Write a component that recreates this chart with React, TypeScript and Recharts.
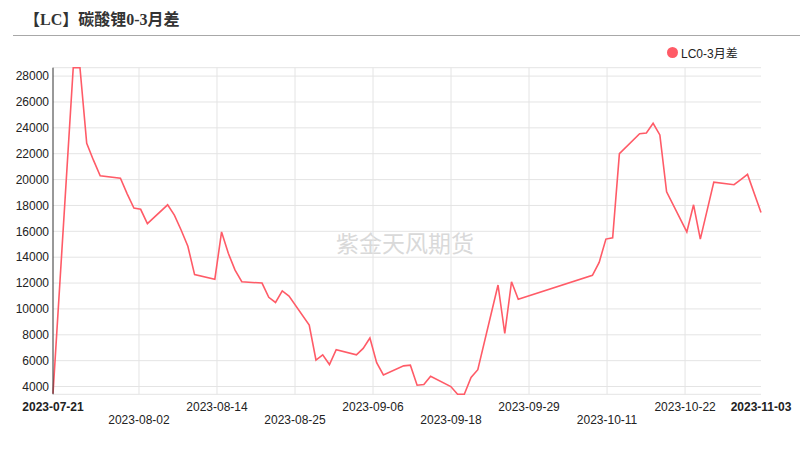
import { CartesianGrid, Line, LineChart, ReferenceLine, XAxis, YAxis } from 'recharts';

// LC0-3 spread, one entry per trading day
const dates = [
	'2023-07-21', '2023-07-24', '2023-07-25', '2023-07-26', '2023-07-27', '2023-07-28',
	'2023-07-31', '2023-08-01', '2023-08-02', '2023-08-03', '2023-08-04',
	'2023-08-07', '2023-08-08', '2023-08-09', '2023-08-10', '2023-08-11',
	'2023-08-14', '2023-08-15', '2023-08-16', '2023-08-17', '2023-08-18',
	'2023-08-21', '2023-08-22', '2023-08-23', '2023-08-24', '2023-08-25',
	'2023-08-28', '2023-08-29', '2023-08-30', '2023-08-31', '2023-09-01',
	'2023-09-04', '2023-09-05', '2023-09-06', '2023-09-07', '2023-09-08',
	'2023-09-11', '2023-09-12', '2023-09-13', '2023-09-14', '2023-09-15',
	'2023-09-18', '2023-09-19', '2023-09-20', '2023-09-21', '2023-09-22',
	'2023-09-25', '2023-09-26', '2023-09-27', '2023-09-28',
	'2023-10-09', '2023-10-10', '2023-10-11', '2023-10-12', '2023-10-13',
	'2023-10-16', '2023-10-17', '2023-10-18', '2023-10-19', '2023-10-20',
	'2023-10-23', '2023-10-24', '2023-10-25', '2023-10-27',
	'2023-10-30', '2023-10-31', '2023-11-01', '2023-11-03',
];

const spread = [
	3450, 28650, 28650, 22800, 21500, 20300,
	20100, 18900, 17800, 17700, 16600,
	18050, 17250, 16100, 14850, 12650,
	12300, 15950, 14300, 13000, 12100,
	12000, 10900, 10500, 11400, 11000,
	8750, 6050, 6450, 5700, 6850,
	6450, 6950, 7750, 5850, 4900,
	5600, 5650, 4100, 4150, 4800,
	4000, 3400, 3400, 4700, 5300,
	11850, 8100, 12100, 10750,
	12600, 13600, 15400, 15500, 22000,
	23550, 23600, 24350, 23450, 19050,
	15950, 18050, 15400, 19800,
	19600, 20000, 20400, 17450,
];

const yTicks = [4000, 6000, 8000, 10000, 12000, 14000, 16000, 18000, 20000, 22000, 24000, 26000, 28000];

const xTickLabels = [
	'2023-07-21', '2023-08-02', '2023-08-14', '2023-08-25', '2023-09-06',
	'2023-09-18', '2023-09-29', '2023-10-11', '2023-10-22', '2023-11-03',
];

const DAY = 86400000;
const start = Date.parse(dates[0]);
const data = dates.map((d, i) => ({ day: (Date.parse(d) - start) / DAY, value: spread[i] }));
const lastDay = (Date.parse(xTickLabels[xTickLabels.length - 1]) - start) / DAY;

// the original time axis puts its inner ticks on an even step that is not a whole day
const xTicks = [0, ...xTickLabels.slice(1, -1).map((_, i) => 12.75 + i * 11.57), lastDay];

const FONT = '"Liberation Sans", Arial, "Noto Sans CJK SC", sans-serif';
const RED = '#ff5b67';

function DateTick(props: any) {
	const { x, y, payload } = props;
	const i = xTicks.indexOf(payload.value);
	if (i < 0) return null;
	const edge = i === 0 || i === xTicks.length - 1;
	const low = !edge && i % 2 === 1;
	return (
		<text
			x={x}
			y={y + (low ? 26 : 13)}
			textAnchor="middle"
			dominantBaseline="central"
			fontSize={12}
			fontFamily={FONT}
			fontWeight={edge ? 700 : 400}
			fill="#222"
		>
			{xTickLabels[i]}
		</text>
	);
}

export default function App() {
	return (
		<div style={{ position: 'absolute', left: 0, top: 0, width: 806, height: 455, background: '#fff', fontFamily: FONT }}>
			<div
				style={{
					position: 'absolute',
					left: 24,
					top: 10,
					fontSize: 16,
					fontWeight: 700,
					color: '#333',
					fontFamily: '"Liberation Serif", "Noto Sans CJK SC", serif',
					lineHeight: '20px',
				}}
			>
				【LC】碳酸锂0-3月差
			</div>
			<div style={{ position: 'absolute', left: 13, top: 35, width: 787, height: 1, background: '#a8a8a8' }} />

			<div style={{ position: 'absolute', left: 667, top: 44, display: 'flex', alignItems: 'center', fontSize: 12, color: '#222' }}>
				<span style={{ width: 11, height: 11, borderRadius: '50%', background: RED, display: 'inline-block', marginRight: 3 }} />
				<span>LC0-3月差</span>
			</div>

			<div
				style={{
					position: 'absolute',
					left: 336,
					top: 228,
					fontSize: 23,
					color: '#d9d9d9',
					fontFamily: '"Noto Sans CJK SC", sans-serif',
					lineHeight: '28px',
					whiteSpace: 'nowrap',
				}}
			>
				紫金天风期货
			</div>

			<div style={{ position: 'absolute', left: 0, top: 0 }}>
				<LineChart width={806} height={455} data={data} margin={{ top: 67.7, right: 45, bottom: 0, left: 0 }}>
					<CartesianGrid vertical={false} stroke="#e4e4e4" />
					{xTicks.slice(1, -1).map((t) => (
						<ReferenceLine key={t} x={t} stroke="#e4e4e4" />
					))}
					<XAxis
						dataKey="day"
						type="number"
						domain={[0, lastDay]}
						ticks={xTicks}
						interval={0}
						height={60.7}
						axisLine={false}
						tickLine={false}
						tickSize={0}
						tickMargin={0}
						tick={<DateTick />}
					/>
					<YAxis
						width={53}
						domain={['dataMin', 'dataMax']}
						ticks={yTicks}
						interval={0}
						axisLine={{ stroke: '#333' }}
						tickLine={false}
						tickSize={0}
						tickMargin={4}
						tick={{ fontSize: 12, fill: '#222', fontFamily: FONT }}
					/>
					<Line type="linear" dataKey="value" stroke={RED} strokeWidth={1.6} dot={false} isAnimationActive={false} />
				</LineChart>
			</div>
		</div>
	);
}
